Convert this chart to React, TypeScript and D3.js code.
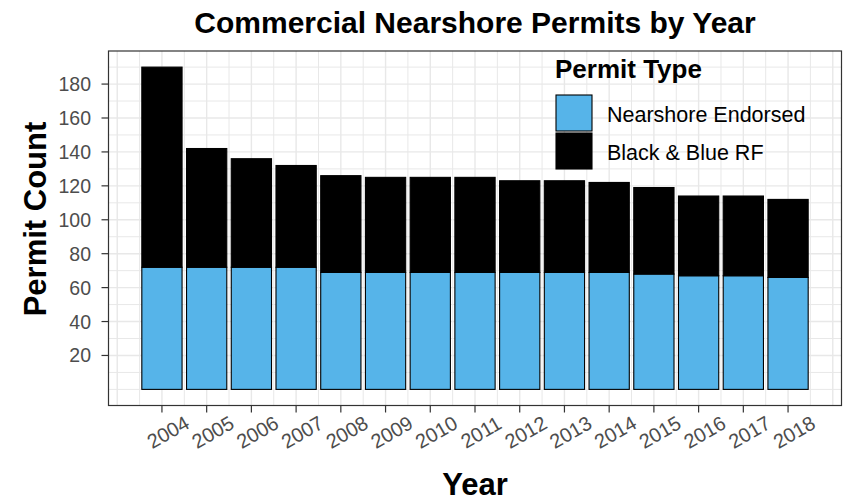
import React from 'react';
import * as d3 from 'd3';

const years = [2004, 2005, 2006, 2007, 2008, 2009, 2010, 2011, 2012, 2013, 2014, 2015, 2016, 2017, 2018];
const nearshoreEndorsed = [72, 72, 72, 72, 69, 69, 69, 69, 69, 69, 69, 68, 67, 67, 66];
const blackBlueRF = [118, 70, 64, 60, 57, 56, 56, 56, 54, 54, 53, 51, 47, 47, 46];
const seriesNames = ['Nearshore Endorsed', 'Black & Blue RF'];
const yTicks = [20, 40, 60, 80, 100, 120, 140, 160, 180];

const W = 844;
const H = 501;
const panel = { left: 108.5, right: 841.5, top: 51, bottom: 405.5 };
const FONT = '"Liberation Sans", Arial, Helvetica, sans-serif';
const COLORS = ['#56B4E9', '#000000'];

export default function App() {
  const rows = years.map((y, i) => ({ year: y, [seriesNames[0]]: nearshoreEndorsed[i], [seriesNames[1]]: blackBlueRF[i] }));
  const stack = d3.stack<any>().keys(seriesNames);
  const layers = stack(rows as any);
  const maxTotal = d3.max(layers[layers.length - 1], (d) => d[1]) as number;

  const barW = 0.9;
  const xMin = d3.min(years)! - barW / 2;
  const xMax = d3.max(years)! + barW / 2;
  const xPad = (xMax - xMin) * 0.05;
  const x = d3.scaleLinear().domain([xMin - xPad, xMax + xPad]).range([panel.left, panel.right]);
  const yPad = maxTotal * 0.05;
  const y = d3.scaleLinear().domain([0 - yPad, maxTotal + yPad]).range([panel.bottom, panel.top]);

  const xGrid: { v: number; major: boolean }[] = [];
  for (let v = Math.ceil(x.domain()[0] * 2) / 2; v <= x.domain()[1]; v += 0.5) {
    xGrid.push({ v, major: Number.isInteger(v) });
  }
  const yGrid: { v: number; major: boolean }[] = [];
  for (let v = 0; v <= y.domain()[1]; v += 10) {
    yGrid.push({ v, major: yTicks.includes(v) });
  }

  const midX = (panel.left + panel.right) / 2;

  return (
    <svg width={W} height={H} style={{ position: 'absolute', left: 0, top: 0, background: '#fff' }} fontFamily={FONT}>
      <rect x={0} y={0} width={W} height={H} fill="#fff" />
      <text x={midX} y={33} textAnchor="middle" fontWeight="bold" fontSize={30} fill="#000">
        Commercial Nearshore Permits by Year
      </text>
      <defs>
        <clipPath id="pclip">
          <rect x={panel.left} y={panel.top} width={panel.right - panel.left} height={panel.bottom - panel.top} />
        </clipPath>
      </defs>
      <g clipPath="url(#pclip)">
        {yGrid.map((g) => (
          <line key={'yg' + g.v} x1={panel.left} x2={panel.right} y1={y(g.v)} y2={y(g.v)} stroke="#e8e8e8" strokeWidth={g.major ? 1.4 : 1} />
        ))}
        {xGrid.map((g) => (
          <line key={'xg' + g.v} y1={panel.top} y2={panel.bottom} x1={x(g.v)} x2={x(g.v)} stroke="#e8e8e8" strokeWidth={g.major ? 1.4 : 1} />
        ))}
        {layers.map((layer, li) =>
          layer.map((d, i) => (
            <rect
              key={li + '-' + i}
              x={x(years[i] - barW / 2)}
              width={x(years[i] + barW / 2) - x(years[i] - barW / 2)}
              y={y(d[1])}
              height={y(d[0]) - y(d[1])}
              fill={COLORS[li]}
              stroke="#000"
              strokeWidth={1.1}
            />
          ))
        )}
      </g>
      <g>
        <text x={555} y={78} fontWeight="bold" fontSize={26} fill="#000">Permit Type</text>
        {seriesNames.map((s, i) => (
          <g key={s}>
            <rect x={556} y={95 + i * 38} width={36} height={36} fill={COLORS[i]} stroke="#000" strokeWidth={1.1} />
            <text x={607} y={113 + i * 38 + 1} dy="0.36em" fontSize={21.5} fill="#000">{s}</text>
          </g>
        ))}
      </g>
      <rect x={panel.left} y={panel.top} width={panel.right - panel.left} height={panel.bottom - panel.top} fill="none" stroke="#333" strokeWidth={1.2} />
      {yTicks.map((t) => (
        <g key={'yt' + t}>
          <line x1={panel.left - 7} x2={panel.left} y1={y(t)} y2={y(t)} stroke="#333" strokeWidth={1.2} />
          <text x={91} y={y(t)} dy="0.36em" textAnchor="end" fontSize={19.5} fill="#4d4d4d">{t}</text>
        </g>
      ))}
      {years.map((yr) => (
        <g key={'xt' + yr}>
          <line x1={x(yr)} x2={x(yr)} y1={panel.bottom} y2={panel.bottom + 7} stroke="#333" strokeWidth={1.2} />
          <text transform={`translate(${x(yr) + 6},${432}) rotate(-30)`} dy="0.36em" textAnchor="middle" fontSize={20} fill="#4d4d4d">{yr}</text>
        </g>
      ))}
      <text x={midX} y={495} textAnchor="middle" fontWeight="bold" fontSize={31} fill="#000">Year</text>
      <text transform={`translate(46,219) rotate(-90)`} textAnchor="middle" fontWeight="bold" fontSize={31} fill="#000">Permit Count</text>
    </svg>
  );
}
